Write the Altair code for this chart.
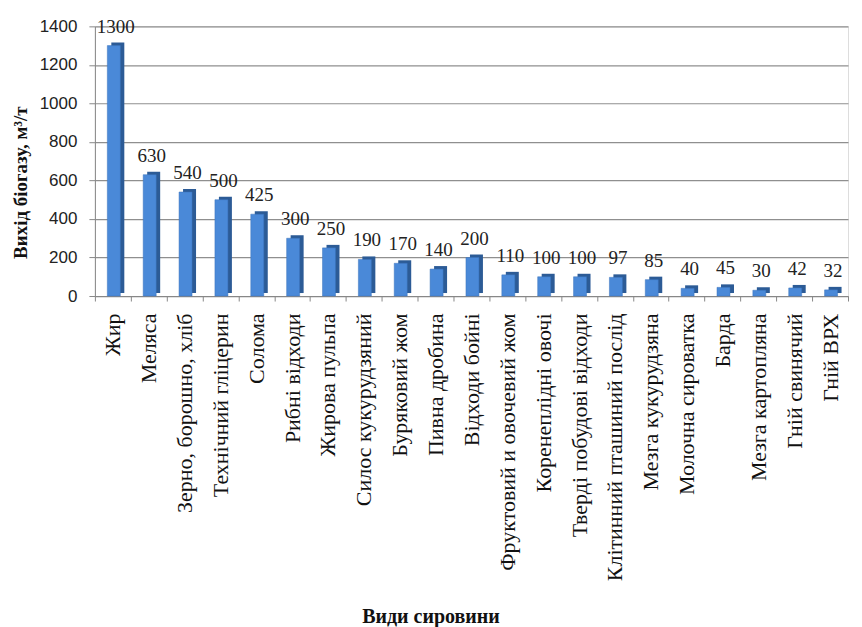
import altair as alt
import pandas as pd

categories = ["Жир", "Меляса", "Зерно, борошно, хліб", "Технічний гліцерин", "Солома",
              "Рибні відходи", "Жирова пульпа", "Силос кукурудзяний", "Буряковий жом",
              "Пивна дробина", "Відходи бойні", "Фруктовий и овочевий жом",
              "Коренеплідні овочі", "Тверді побудові відходи", "Клітинний пташиний послід",
              "Мезга кукурудзяна", "Молочна сироватка", "Барда", "Мезга картопляна",
              "Гній свинячий", "Гній ВРХ"]
values = [1300, 630, 540, 500, 425, 300, 250, 190, 170, 140, 200, 110, 100, 100, 97, 85,
          40, 45, 30, 42, 32]
y_ticks = [0, 200, 400, 600, 800, 1000, 1200, 1400]

df = pd.DataFrame({"cat": categories, "val": values})

SERIF = "Liberation Serif"
SANS = "Liberation Sans"

x_enc = alt.X("cat:N", sort=categories, title="Види сировини",
              scale=alt.Scale(paddingInner=0.0, paddingOuter=0.0),
              axis=alt.Axis(labelAngle=-90, labelFont=SERIF, labelFontSize=22,
                            labelColor="#111", labelAlign="right", labelBaseline="middle",
                            labelPadding=12, labelLimit=400,
                            tickBand="extent", tickColor="#888", tickSize=5,
                            domainColor="#888", titleFont=SERIF, titleFontSize=20,
                            titleFontWeight="bold", titleColor="#111",
                            titleX=336, titleAlign="center",
                            titleY=311, titleBaseline="top"))
y_enc = alt.Y("val:Q", title="Вихід біогазу, м³/т",
              scale=alt.Scale(domain=[0, 1400], nice=False),
              axis=alt.Axis(values=y_ticks, format="d", labelFont=SANS, labelFontSize=17,
                            labelColor="#222", labelPadding=12, tickSize=6,
                            tickColor="#888", domainColor="#888", gridColor="#8f8f8f",
                            gridWidth=1.2, titleFont=SERIF, titleFontSize=19,
                            titleFontWeight="bold", titleColor="#111", titlePadding=9,
                            titleY=156, titleAlign="center"))

base = alt.Chart(df)

side = base.mark_bar(size=13, xOffset=5, yOffset=-3, color="#2C5B96").encode(x=x_enc, y=y_enc)
front = base.mark_bar(size=13, xOffset=1, color="#4A89D8", stroke="#3B74BC", strokeWidth=0.5).encode(x=x_enc, y=y_enc)
labels = base.mark_text(font=SERIF, fontSize=19, color="#222", dy=-9, dx=3,
                        baseline="bottom").encode(x=x_enc, y=y_enc, text="val:Q")

chart = alt.layer(side, front, labels).properties(
    width=754, height=270,
    padding={"top": 9, "left": 3, "right": 5, "bottom": 5},
).configure_view(stroke=None).configure(background="white")

chart.save("out.html", embed_options={"renderer": "svg", "actions": False})
